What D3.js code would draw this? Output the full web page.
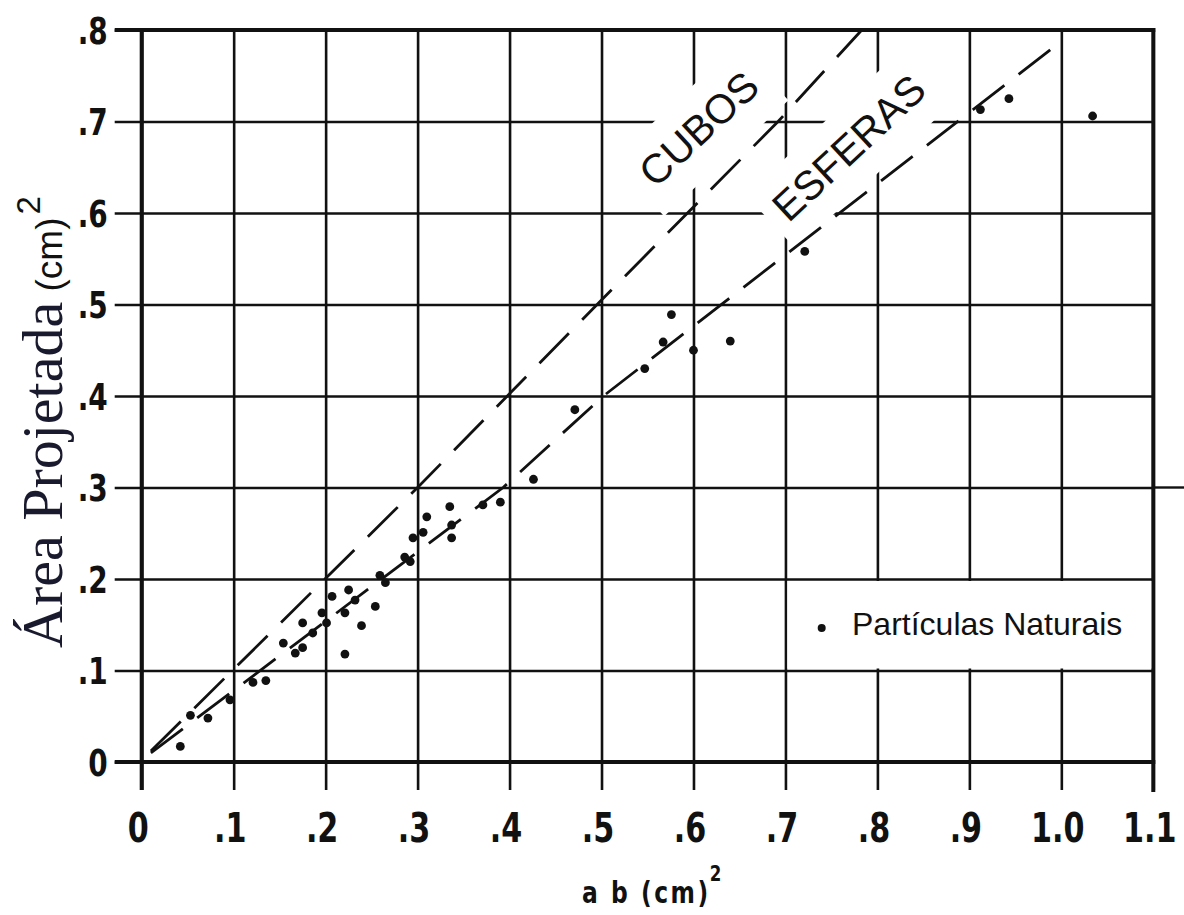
<!DOCTYPE html>
<html>
<head>
<meta charset="utf-8">
<script src="https://cdn.jsdelivr.net/npm/d3@7"></script>
<style>
  html, body { margin: 0; padding: 0; background: #fff; }
  svg { display: block; }
</style>
</head>
<body>
<svg id="chart" width="1184" height="915"></svg>
<script>
// ---- data ----
const xTicks = [0, 0.1, 0.2, 0.3, 0.4, 0.5, 0.6, 0.7, 0.8, 0.9, 1.0, 1.1];
const xTickLabels = ["0", ".1", ".2", ".3", ".4", ".5", ".6", ".7", ".8", ".9", "1.0", "1.1"];
const yTicks = [0, 0.1, 0.2, 0.3, 0.4, 0.5, 0.6, 0.7, 0.8];
const yTickLabels = ["0", ".1", ".2", ".3", ".4", ".5", ".6", ".7", ".8"];

const particleAB = [0.042, 0.053, 0.072, 0.096, 0.121, 0.135, 0.154, 0.167, 0.175, 0.175, 0.186,
  0.196, 0.201, 0.207, 0.221, 0.225, 0.232, 0.239, 0.221, 0.254, 0.265, 0.259, 0.292, 0.286,
  0.295, 0.306, 0.310, 0.335, 0.337, 0.337, 0.371, 0.390, 0.426, 0.471, 0.547, 0.567, 0.576,
  0.600, 0.640, 0.721, 0.912, 0.943, 1.034];
const particleArea = [0.017, 0.051, 0.048, 0.068, 0.087, 0.089, 0.130, 0.119, 0.125, 0.152, 0.141,
  0.163, 0.152, 0.181, 0.163, 0.188, 0.177, 0.149, 0.118, 0.170, 0.196, 0.204, 0.219, 0.224,
  0.245, 0.251, 0.268, 0.279, 0.245, 0.259, 0.281, 0.284, 0.309, 0.385, 0.430, 0.459, 0.489,
  0.450, 0.460, 0.558, 0.713, 0.725, 0.706];

const cubosAB = [0.01, 0.30, 0.50, 0.692, 0.783];
const cubosArea = [0.012, 0.30, 0.505, 0.70, 0.80];
const esferasAB = [0.01, 0.393, 0.502, 0.999];
const esferasArea = [0.01, 0.30, 0.40, 0.787];

const legendLabel = "Partículas Naturais";
const xTitle = "a b (cm)";
const yTitle = "Área Projetada";

// ---- drawing ----
const svg = d3.select("#chart");
const ink = "#111";
const x = d3.scaleLinear().domain([0, 1.1]).range([141.7, 1153.3]);
const y = d3.scaleLinear().domain([0, 0.8]).range([762, 30]);
const plotH = y(0) - y(0.8);
const plotW = x(1.1) - x(0);

const tickFont = "'Liberation Sans Narrow','DejaVu Sans Condensed','Arial Narrow',sans-serif";
const squeeze = 0.84;

// X axis with full-height grid lines
const gx = svg.append("g").attr("transform", `translate(0,${y(0)})`)
  .call(d3.axisBottom(x).tickValues(xTicks).tickFormat((d, i) => xTickLabels[i]).tickSize(28));
gx.select(".domain").remove();
gx.selectAll(".tick line").attr("y1", 28).attr("y2", -plotH)
  .attr("stroke", ink).attr("stroke-width", 2.6);
gx.selectAll(".tick text").attr("x", -4 / squeeze).attr("y", 80).attr("dy", 0)
  .attr("transform", `scale(${squeeze},1)`)
  .attr("fill", ink).attr("font-family", tickFont).attr("font-weight", "bold")
  .attr("font-size", 40);

// Y axis with full-width grid lines
const gy = svg.append("g").attr("transform", `translate(${x(0)},0)`)
  .call(d3.axisLeft(y).tickValues(yTicks).tickFormat((d, i) => yTickLabels[i]).tickSize(27));
gy.select(".domain").remove();
gy.selectAll(".tick line").attr("x1", plotW).attr("x2", -27)
  .attr("stroke", ink).attr("stroke-width", 2.6);
gy.selectAll(".tick text").attr("x", -34 / squeeze).attr("dy", "0.36em")
  .attr("transform", `scale(${squeeze},1)`)
  .attr("fill", ink).attr("font-family", tickFont).attr("font-weight", "bold")
  .attr("font-size", 37);

// the .3 line runs past the frame to the page edge in the reference
svg.append("line").attr("x1", x(1.1)).attr("x2", 1184).attr("y1", y(0.3)).attr("y2", y(0.3))
  .attr("stroke", ink).attr("stroke-width", 2.4);

// heavier frame
const frame = svg.append("g").attr("stroke", ink).attr("stroke-width", 4).attr("fill", "none");
frame.append("line").attr("x1", x(0)).attr("x2", x(0)).attr("y1", y(0.8) - 2).attr("y2", y(0) + 28);
frame.append("line").attr("x1", x(1.1)).attr("x2", x(1.1)).attr("y1", y(0.8) - 2).attr("y2", y(0) + 30);
frame.append("line").attr("x1", x(0) - 27).attr("x2", x(1.1) + 2).attr("y1", y(0.8)).attr("y2", y(0.8));
frame.append("line").attr("x1", x(0) - 27).attr("x2", x(1.1) + 2).attr("y1", y(0)).attr("y2", y(0));

// white boxes behind the rotated line labels
const labels = [
  { text: "CUBOS", cx: 699, cy: 129, ang: -43, top: -36, bot: 40 },
  { text: "ESFERAS", cx: 849, cy: 148, ang: -43, top: -36, bot: 38 }
];
const labelG = svg.append("g");
labels.forEach(l => {
  const g = labelG.append("g").attr("transform", `translate(${l.cx},${l.cy}) rotate(${l.ang})`);
  const t = g.append("text").text(l.text)
    .attr("text-anchor", "middle").attr("dominant-baseline", "central")
    .attr("font-family", "'Liberation Sans',Arial,sans-serif").attr("font-size", 41)
    .attr("fill", ink);
  const w = t.node().getComputedTextLength();
  g.insert("rect", "text").attr("x", -w / 2 - 12).attr("width", w + 24)
    .attr("y", l.top).attr("height", l.bot - l.top).attr("fill", "#fff");
  l.g = g;
});

// dashed reference lines
const line = d3.line().x(d => x(d[0])).y(d => y(d[1]));
svg.append("path").datum(cubosAB.map((v, i) => [v, cubosArea[i]])).attr("d", line)
  .attr("fill", "none").attr("stroke", ink).attr("stroke-width", 2.8)
  .attr("stroke-dasharray", "42 19");
svg.append("path").datum(esferasAB.map((v, i) => [v, esferasArea[i]])).attr("d", line)
  .attr("fill", "none").attr("stroke", ink).attr("stroke-width", 2.8)
  .attr("stroke-dasharray", "40 18");

// particle points
svg.append("g").selectAll("circle").data(particleAB.map((v, i) => [v, particleArea[i]]))
  .join("circle").attr("cx", d => x(d[0])).attr("cy", d => y(d[1])).attr("r", 4.4).attr("fill", ink);

// raise the label text above lines
labels.forEach(l => l.g.raise());

// legend box in the .7-1.1 / .1-.2 cell
const lg = svg.append("g");
lg.append("rect").attr("x", x(0.7) + 2).attr("y", y(0.2) + 2)
  .attr("width", x(1.1) - x(0.7) - 4).attr("height", y(0.1) - y(0.2) - 4).attr("fill", "#fff");
lg.append("circle").attr("cx", 821.7).attr("cy", 628).attr("r", 4).attr("fill", ink);
lg.append("text").attr("x", 852).attr("y", 635).text(legendLabel)
  .attr("font-family", "'Liberation Sans',Arial,sans-serif").attr("font-size", 32).attr("fill", ink);

// axis titles
const xt = svg.append("text").attr("transform", `translate(582,903) scale(${squeeze},1)`)
  .attr("font-family", tickFont).attr("font-weight", "bold").attr("font-size", 31)
  .attr("letter-spacing", 3).attr("fill", ink);
xt.append("tspan").text(xTitle);
xt.append("tspan").text("2").attr("font-size", 22).attr("dy", -22).attr("dx", -1).attr("letter-spacing", 0);

const yt = svg.append("text").attr("transform", "translate(62,648) rotate(-90)").attr("fill", "#1a1a2e");
yt.append("tspan").text(yTitle).attr("font-family", "'Liberation Serif','Times New Roman',serif").attr("font-size", 58);
yt.append("tspan").text(" (cm)").attr("font-family", "'Liberation Sans',Arial,sans-serif").attr("font-size", 37).attr("fill", ink);
yt.append("tspan").text("2").attr("font-family", "'Liberation Sans',Arial,sans-serif").attr("font-size", 33)
  .attr("dy", -22).attr("dx", 3).attr("fill", ink);
</script>
</body>
</html>
